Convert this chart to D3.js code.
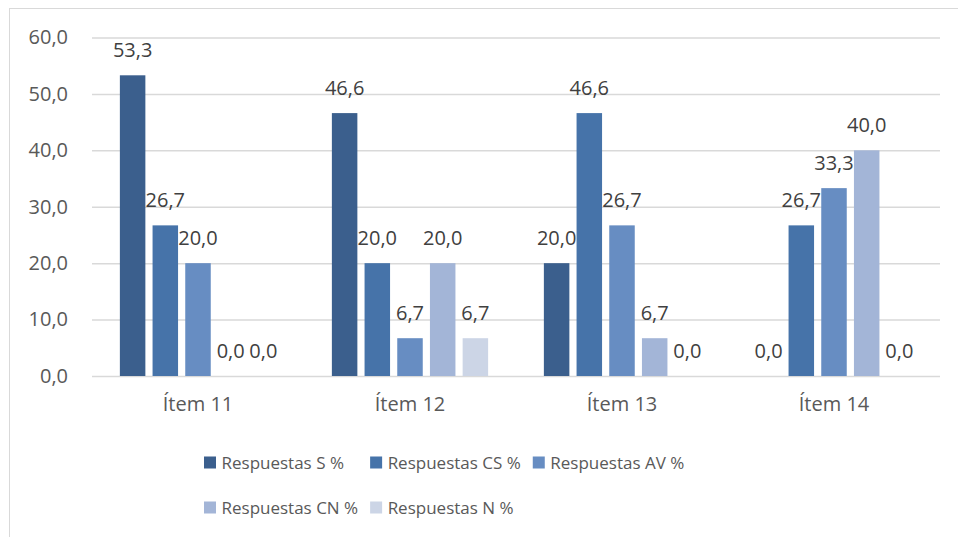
<!DOCTYPE html>
<html>
<head>
<meta charset="utf-8">
<script src="https://cdn.jsdelivr.net/npm/d3@7"></script>
<style>
  body { margin: 0; background: #fff; }
  svg { display: block; font-family: "Open Sans", sans-serif; }
</style>
</head>
<body>
<svg id="chart" width="958" height="537"></svg>
<script>
// chart data
const items = ["Ítem 11", "Ítem 12", "Ítem 13", "Ítem 14"];
const seriesNames = ["Respuestas S %", "Respuestas CS %", "Respuestas AV %", "Respuestas CN %", "Respuestas N %"];
const seriesS  = [53.3, 46.6, 20.0, 0.0];
const seriesCS = [26.7, 20.0, 46.6, 26.7];
const seriesAV = [20.0, 6.7, 26.7, 33.3];
const seriesCN = [0.0, 20.0, 6.7, 40.0];
const seriesN  = [0.0, 6.7, 0.0, 0.0];
const yTicks = [0, 10, 20, 30, 40, 50, 60];

const colors = ["#3b5f8d", "#4673a9", "#678dc2", "#a3b5d7", "#ccd5e6"];
const allSeries = [seriesS, seriesCS, seriesAV, seriesCN, seriesN];

const plot = { left: 92, right: 940, top: 37.5, bottom: 376 };
const textColor = "#595959";
const labelColor = "#404040";

const locale = d3.formatLocale({ decimal: ",", thousands: ".", grouping: [3], currency: ["", "€"] });
const fmt = locale.format(".1f");

const svg = d3.select("#chart");

// outer chart border (only left + top visible in frame)
svg.append("rect")
  .attr("x", 9.5)
  .attr("y", 8.5)
  .attr("width", 1200)
  .attr("height", 1200)
  .style("fill", "none")
  .style("stroke", "#d9d9d9")
  .style("stroke-width", 1);

let yScale = d3.scaleLinear()
  .domain([0, 60])
  .range([plot.bottom, plot.top]);

let x0 = d3.scaleBand()
  .domain(items)
  .range([plot.left, plot.right])
  .paddingInner(0.229)
  .paddingOuter(0.1145);

let x1 = d3.scaleBand()
  .domain(d3.range(seriesNames.length))
  .range([0, x0.bandwidth()])
  .paddingInner(0.22)
  .paddingOuter(0.11);

// gridlines + y tick labels
let yAxis = d3.axisLeft(yScale)
  .tickValues(yTicks)
  .tickFormat(fmt)
  .tickSize(-(plot.right - plot.left))
  .tickPadding(24);

let gy = svg.append("g")
  .attr("transform", `translate(${plot.left},0)`)
  .call(yAxis);
gy.select(".domain").remove();
gy.selectAll(".tick line")
  .style("stroke", "#d9d9d9")
  .style("stroke-width", 1.5);
gy.selectAll(".tick text")
  .style("font-size", "20px")
  .style("fill", textColor)
  .style("font-family", "Open Sans");

// category labels
let xAxis = d3.axisBottom(x0).tickSize(0).tickPadding(21);
let gx = svg.append("g")
  .attr("transform", `translate(0,${plot.bottom})`)
  .call(xAxis);
gx.select(".domain").remove();
gx.selectAll(".tick text")
  .style("font-size", "20px")
  .style("fill", textColor)
  .style("font-family", "Open Sans");

// bars
let groups = svg.selectAll(".group")
  .data(items)
  .enter()
  .append("g")
    .attr("class", "group")
    .attr("transform", d => `translate(${x0(d)},0)`);

groups.selectAll("rect")
  .data((d, i) => allSeries.map((s, k) => ({ k: k, v: s[i] })))
  .enter()
  .append("rect")
    .attr("x", d => x1(d.k))
    .attr("y", d => yScale(d.v))
    .attr("width", x1.bandwidth())
    .attr("height", d => yScale(0) - yScale(d.v))
    .style("fill", d => colors[d.k]);

// data labels
groups.selectAll("text")
  .data((d, i) => allSeries.map((s, k) => ({ k: k, v: s[i] })))
  .enter()
  .append("text")
    .attr("x", d => x1(d.k) + x1.bandwidth() / 2)
    .attr("y", d => yScale(d.v) - 18.5)
    .text(d => fmt(d.v))
    .style("font-size", "20px")
    .style("fill", labelColor)
    .style("text-anchor", "middle");

// legend: 3 columns, grid style
const legendCols = 3;
const legendX = 204;
const legendRows = [462.5, 507.5];
let legend = svg.append("g");

let entries = legend.selectAll(".entry")
  .data(seriesNames)
  .enter()
  .append("g")
    .attr("class", "entry");

entries.append("rect")
  .attr("width", 12)
  .attr("height", 12)
  .attr("y", -6)
  .style("fill", (d, i) => colors[i]);

entries.append("text")
  .attr("x", 17.5)
  .attr("y", 6.5)
  .text(d => d)
  .style("font-size", "17px")
  .style("fill", textColor);

let widths = [];
entries.each(function(d, i) {
  let w = 17.5 + d3.select(this).select("text").node().getComputedTextLength();
  let c = i % legendCols;
  widths[c] = Math.max(widths[c] || 0, w);
});
let colX = [legendX];
for (let c = 1; c < legendCols; c++) colX[c] = colX[c - 1] + widths[c - 1] + 12;

entries.attr("transform", (d, i) => `translate(${colX[i % legendCols]},${legendRows[Math.floor(i / legendCols)]})`);
</script>
</body>
</html>
